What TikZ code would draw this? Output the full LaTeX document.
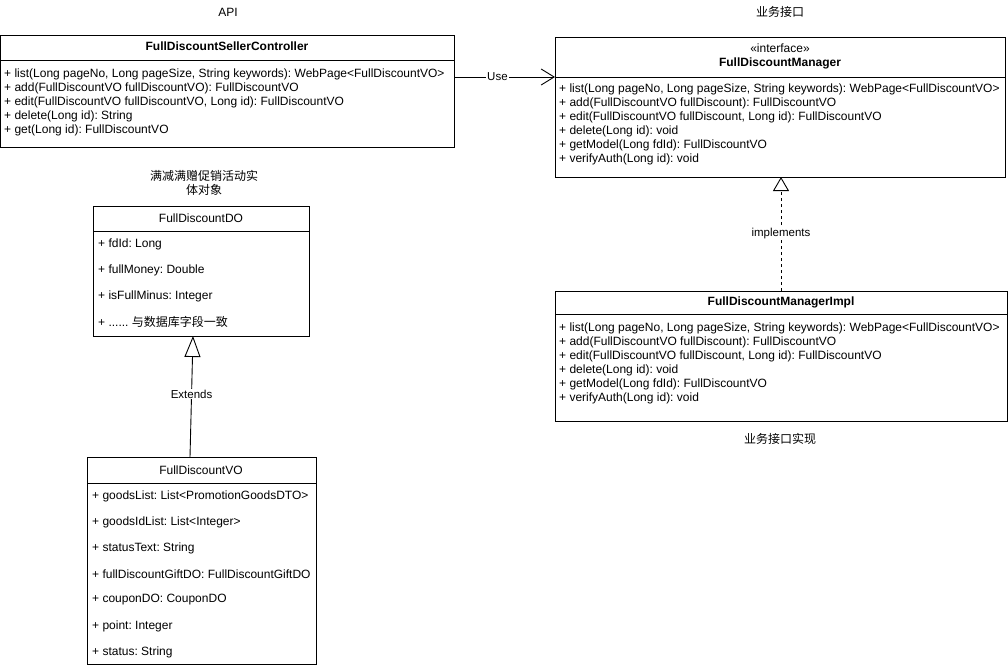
\documentclass[tikz,border=0pt]{standalone}
\usepackage{fontspec}
\setmainfont{Liberation Sans}
\newfontfamily\cjk{Noto Sans CJK SC}
\usetikzlibrary{arrows.meta}
\frenchspacing
\tikzset{
  box/.style={draw=black, line width=0.9pt, anchor=north west, inner sep=0pt, fill=white},
  sep/.style={draw=black, line width=0.6pt},
  txt/.style={anchor=west, inner sep=0pt, font=\fontsize{12}{14}\selectfont\frenchspacing},
  ctr/.style={anchor=center, inner sep=0pt, font=\fontsize{12}{14}\selectfont\frenchspacing},
  ttl/.style={anchor=center, inner sep=0pt, font=\fontsize{12}{14}\selectfont\bfseries},
  conn/.style={draw=black, line width=0.9pt},
  lbl/.style={fill=white, inner sep=1pt, font=\fontsize{11.5}{13}\selectfont},
}
\begin{document}
\begin{tikzpicture}[x=1pt,y=-1pt]
\useasboundingbox (0,0) rectangle (1008,669);
% captions
\node[ctr] (capapi) at (228,12) {API};
\node[ctr] (capif) at (780,12) {\cjk 业务接口};
\node[ctr] (capimpl) at (780,439) {\cjk 业务接口实现};
\node[ctr, align=center, font=\fontsize{12}{14}\selectfont] (capdo) at (204,183) {\cjk 满减满赠促销活动实\\\cjk 体对象};
% controller
\node[box, minimum width=454pt, minimum height=112pt] (ctrl) at (0,35) {};
\node[ttl] (ctrlt) at (227,46) {FullDiscountSellerController};
\draw[sep] (0,60) -- (454,60);
\foreach \t [count=\i] in {{+ list(Long pageNo, Long pageSize, String keywords): WebPage<FullDiscountVO>},
  {+ add(FullDiscountVO fullDiscountVO): FullDiscountVO},
  {+ edit(FullDiscountVO fullDiscountVO, Long id): FullDiscountVO},
  {+ delete(Long id): String},
  {+ get(Long id): FullDiscountVO}}
  \node[txt] (cm\i) at (4,60+14*\i) {\t};
% manager
\node[box, minimum width=450pt, minimum height=140pt] (mgr) at (555,37) {};
\node[ctr] (mgrs) at (780,48) {«interface»};
\node[ttl] (mgrt) at (780,63) {FullDiscountManager};
\draw[sep] (555,77) -- (1005,77);
\foreach \t [count=\i] in {{+ list(Long pageNo, Long pageSize, String keywords): WebPage<FullDiscountVO>},
  {+ add(FullDiscountVO fullDiscount): FullDiscountVO},
  {+ edit(FullDiscountVO fullDiscount, Long id): FullDiscountVO},
  {+ delete(Long id): void},
  {+ getModel(Long fdId): FullDiscountVO},
  {+ verifyAuth(Long id): void}}
  \node[txt] (mm\i) at (559,75+14*\i) {\t};
% impl
\node[box, minimum width=452pt, minimum height=130pt] (impl) at (555,291) {};
\node[ttl] (implt) at (781,302) {FullDiscountManagerImpl};
\draw[sep] (555,314) -- (1007,314);
\foreach \t [count=\i] in {{+ list(Long pageNo, Long pageSize, String keywords): WebPage<FullDiscountVO>},
  {+ add(FullDiscountVO fullDiscount): FullDiscountVO},
  {+ edit(FullDiscountVO fullDiscount, Long id): FullDiscountVO},
  {+ delete(Long id): void},
  {+ getModel(Long fdId): FullDiscountVO},
  {+ verifyAuth(Long id): void}}
  \node[txt] (im\i) at (559,314+14*\i) {\t};
% DO
\node[box, minimum width=216pt, minimum height=130pt] (do) at (93,206) {};
\node[ctr] (dot) at (201,218) {FullDiscountDO};
\draw[sep] (93,231) -- (309,231);
\node[txt] (da1) at (98,244) {+ fdId: Long};
\node[txt] (da2) at (98,270) {+ fullMoney: Double};
\node[txt] (da3) at (98,296) {+ isFullMinus: Integer};
\node[txt] (da4) at (98,322) {+ ...... {\cjk 与数据库字段一致}};
% VO
\node[box, minimum width=229pt, minimum height=207pt] (vo) at (87,457) {};
\node[ctr] (vot) at (201,470) {FullDiscountVO};
\draw[sep] (87,483) -- (316,483);
\foreach \t [count=\i] in {{+ goodsList: List<PromotionGoodsDTO>},{+ goodsIdList: List<Integer>},{+ statusText: String},{+ fullDiscountGiftDO: FullDiscountGiftDO},{+ couponDO: CouponDO},{+ point: Integer},{+ status: String}}
  \node[txt] (va\i) at (92,470+26*\i) {\t};
% connectors
\coordinate (useA) at (454,77);
\coordinate (useB) at (555,77);
\draw[conn, -{Straight Barb[length=13pt,width=16pt,line width=0.9pt]}] (useA) -- node[lbl, pos=0.43] (uselbl) {Use} (useB);
\coordinate (impA) at (781,291);
\coordinate (impB) at (781,177);
\draw[conn, dash pattern=on 3pt off 3pt, -{Triangle[open,length=14pt,width=16pt,fill=white,line width=0.9pt]}] (impA) -- node[lbl, pos=0.5] (implbl) {implements} (impB);
\coordinate (extA) at (190,457);
\coordinate (extB) at (193,336);
\draw[conn, -{Triangle[open,length=21pt,width=16pt,fill=white,line width=0.9pt]}] (extA) -- node[lbl, pos=0.52] (extlbl) {Extends} (extB);
\end{tikzpicture}
\end{document}
